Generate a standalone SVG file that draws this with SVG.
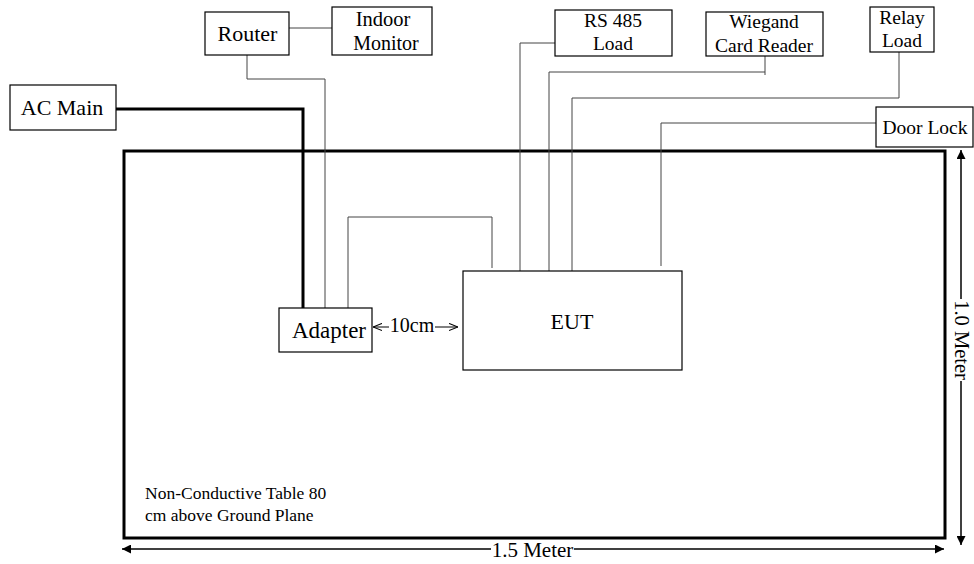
<svg xmlns="http://www.w3.org/2000/svg" width="974" height="564" viewBox="0 0 974 564">
<defs>
<style>
.box{fill:#fff;stroke:#000;stroke-width:1.2}
.w{fill:none;stroke:#444;stroke-width:1}
.thick{fill:none;stroke:#000;stroke-width:3}
.dim{fill:none;stroke:#000;stroke-width:1.5}
</style>
<marker id="ah" viewBox="0 0 10 10" refX="10" refY="5" markerWidth="11" markerHeight="9" markerUnits="userSpaceOnUse" orient="auto-start-reverse"><path d="M0,0 L10,5 L0,10 z" fill="#000"/></marker>
<marker id="oa" viewBox="0 0 10 10" refX="10" refY="5" markerWidth="9" markerHeight="9" markerUnits="userSpaceOnUse" orient="auto-start-reverse"><path d="M0,1 L10,5 L0,9" fill="none" stroke="#000" stroke-width="1.2"/></marker>
</defs>
<rect width="974" height="564" fill="#fff"/>
<g font-family="Liberation Serif, serif" font-size="19.5" text-anchor="middle" fill="#000">
<g id="table">
<rect x="124" y="151" width="821" height="387" class="thick"/>
<text x="145" y="499" font-size="17.5" text-anchor="start">Non-Conductive Table 80</text>
<text x="145" y="521" font-size="17.5" text-anchor="start">cm above Ground Plane</text>
</g>
<g id="connectors">
<polyline class="thick" points="116,109 303,109 303,308"/>
<polyline class="w" points="289,28 332,28"/>
<polyline class="w" points="247,55 247,79 325,79 325,308"/>
<polyline class="w" points="348,308 348,217 492,217 492,268"/>
<polyline class="w" points="555,43 520,43 520,273"/>
<polyline class="w" points="765,56 765,75"/>
<polyline class="w" points="765,72 549,72 549,271"/>
<polyline class="w" points="899,52 899,98 572,98 572,271"/>
<polyline class="w" points="876,123 661,123 661,266"/>
<line x1="389" y1="327" x2="373" y2="327" stroke="#000" stroke-width="1" marker-end="url(#oa)"/>
<line x1="435" y1="327" x2="458" y2="327" stroke="#000" stroke-width="1" marker-end="url(#oa)"/>
<text x="412" y="332" font-size="20">10cm</text>
<line x1="122" y1="549" x2="491" y2="549" class="dim" marker-start="url(#ah)"/>
<line x1="574" y1="549" x2="944" y2="549" class="dim" marker-end="url(#ah)"/>
<text x="532.5" y="557" font-size="21">1.5 Meter</text>
<line x1="961" y1="150" x2="961" y2="299" class="dim" marker-start="url(#ah)"/>
<line x1="961" y1="381" x2="961" y2="545" class="dim" marker-end="url(#ah)"/>
<text transform="translate(955,340) rotate(90)" font-size="20.5">1.0 Meter</text>
</g>
<g id="ac-main"><rect class="box" x="10" y="85" width="106" height="45"/><text x="62" y="115" font-size="22">AC Main</text></g>
<g id="router"><rect class="box" x="205" y="12" width="84" height="43"/><text x="247.5" y="41" font-size="22">Router</text></g>
<g id="indoor-monitor"><rect class="box" x="332" y="7" width="100" height="48"/><text x="383" y="26" font-size="20.5">Indoor</text><text x="386" y="50" font-size="20">Monitor</text></g>
<g id="rs485"><rect class="box" x="555" y="10" width="117" height="46"/><text x="613" y="27">RS 485</text><text x="613" y="50">Load</text></g>
<g id="wiegand"><rect class="box" x="706" y="12" width="117" height="44"/><text x="764" y="28">Wiegand</text><text x="764" y="52">Card Reader</text></g>
<g id="relay"><rect class="box" x="870" y="7" width="64" height="45"/><text x="902" y="24">Relay</text><text x="902" y="47">Load</text></g>
<g id="door-lock"><rect class="box" x="876" y="107" width="97" height="40"/><text x="925" y="134">Door Lock</text></g>
<g id="adapter"><rect class="box" x="279" y="308" width="93" height="44"/><text x="329" y="338" font-size="23">Adapter</text></g>
<g id="eut"><rect class="box" x="463" y="271" width="219" height="99"/><text x="572" y="329" font-size="22">EUT</text></g>
</g>
</svg>
